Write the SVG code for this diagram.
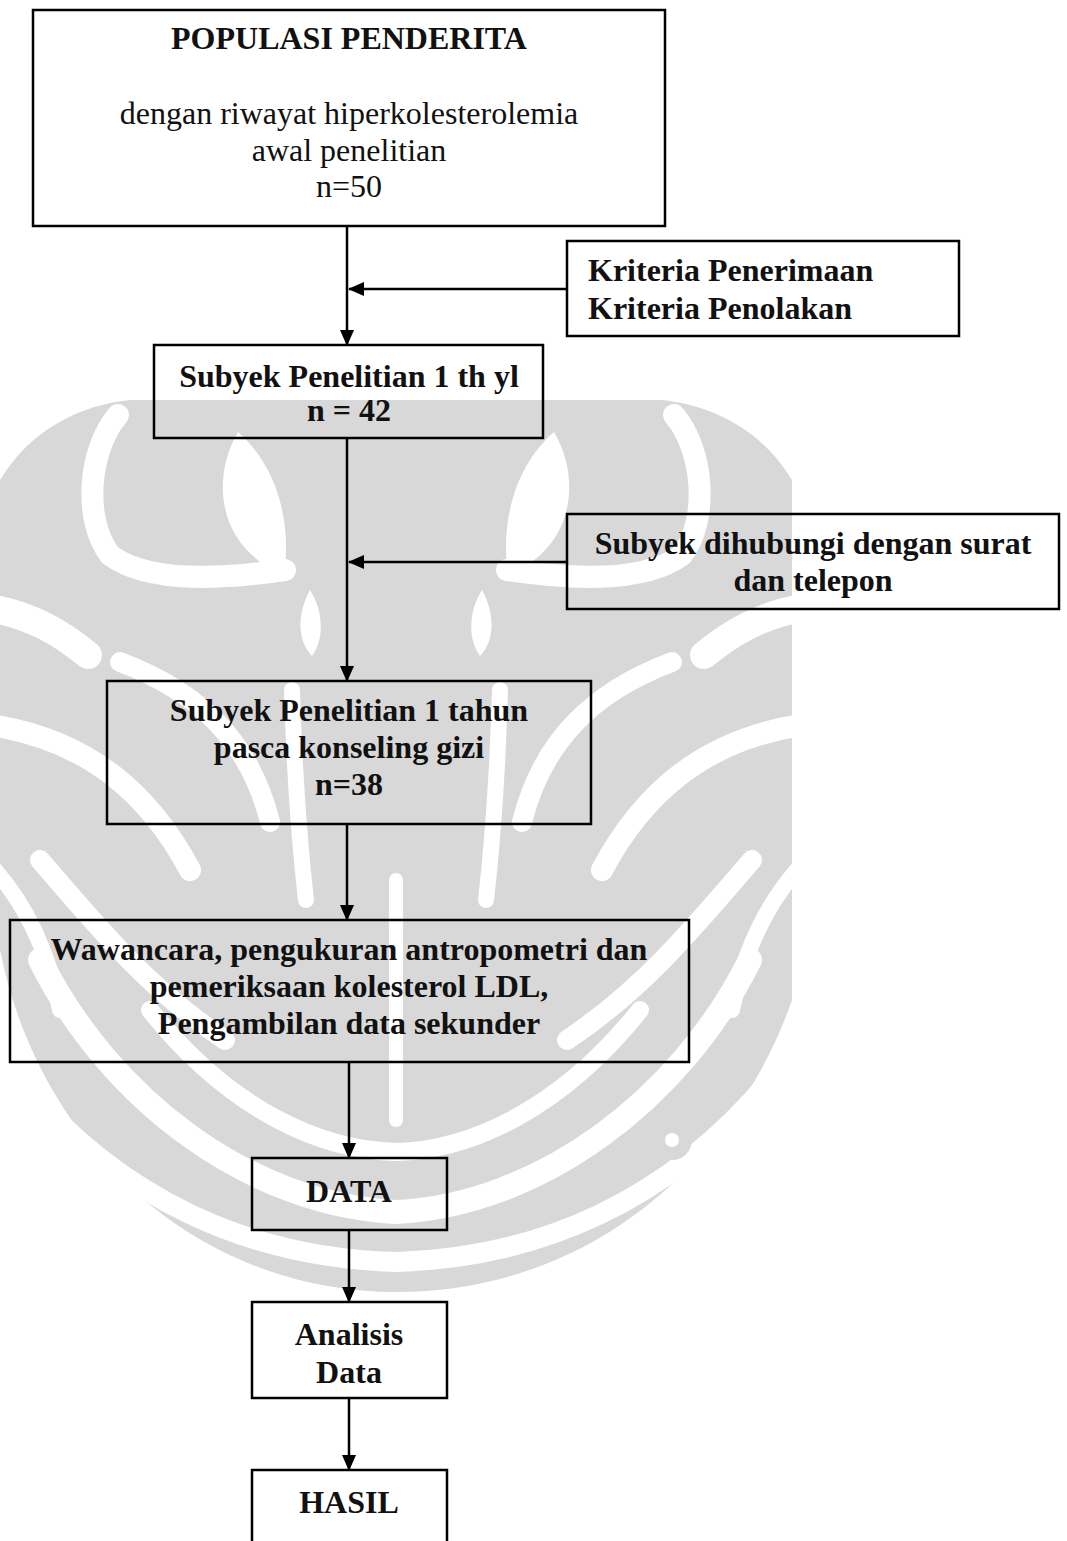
<svg xmlns="http://www.w3.org/2000/svg" width="1067" height="1541" viewBox="0 0 1067 1541">
<style>
.box{fill:none;stroke:#000;stroke-width:2.5}
.t{font-family:"Liberation Serif","Times New Roman",serif;font-size:32px;fill:#111;text-anchor:middle}
.b{font-weight:bold}
.l{text-anchor:start}
.wg{fill:#d8d8d8}
.ww{fill:none;stroke:#fff;stroke-linecap:round}
.wf{fill:#fff}
.c{fill:none;stroke:#000;stroke-width:2.5}
</style>
<defs>
<marker id="ah" markerUnits="userSpaceOnUse" markerWidth="16" markerHeight="14" refX="15" refY="7" orient="auto">
<path d="M0,0 L16,7 L0,14 Z" fill="#000"/>
</marker>
<g id="half">
<path class="ww" stroke-width="22" d="M118 415 C88 450 83 520 110 555 C150 585 230 578 285 570"/>
<path class="wf" d="M238 432 C210 480 218 548 284 575 C292 520 276 465 238 432 Z"/>
<path class="ww" stroke-width="28" d="M-10 608 C30 615 60 632 88 655"/>
<path class="wf" d="M310 590 C296 615 298 642 312 656 C324 640 324 612 310 590 Z"/>
<path class="ww" stroke-width="22" d="M-10 725 C90 740 150 795 190 870"/>
<path class="ww" stroke-width="20" d="M120 662 C200 692 250 742 270 822"/>
<path class="ww" stroke-width="16" d="M292 690 C294 760 298 830 306 900"/>
<path class="ww" stroke-width="20" d="M40 860 C100 930 150 990 225 1040"/>
<path class="ww" stroke-width="16" d="M-5 870 C30 910 50 960 60 1010"/>
</g>
</defs>
<rect width="1067" height="1541" fill="#fff"/>
<g id="watermark">
<path class="wg" d="M0 480 C30 430 80 405 130 400 L662 400 C712 405 762 430 792 480 L792 1000 C740 1150 600 1292 396 1292 C200 1292 40 1150 0 950 Z"/>
<use href="#half"/>
<use href="#half" transform="translate(792,0) scale(-1,1)"/>
<path class="ww" stroke-width="18" d="M150 1010 C230 1110 320 1150 396 1152 C470 1150 560 1110 640 1010"/>
<path class="ww" stroke-width="24" d="M40 960 C110 1100 250 1205 396 1212 C540 1205 680 1100 750 960"/>
<path class="ww" stroke-width="20" d="M20 1080 C120 1200 250 1258 396 1262 C540 1258 670 1200 770 1080"/>
<path class="ww" stroke-width="14" d="M396 880 L396 1120"/>
<circle cx="672" cy="1140" r="20" fill="#d8d8d8"/>
<circle cx="672" cy="1140" r="7" fill="#fff"/>
</g>
<g id="connectors">
<path class="c" d="M347 226 V345" marker-end="url(#ah)"/>
<path class="c" d="M567 289 H349" marker-end="url(#ah)"/>
<path class="c" d="M347 438 V681" marker-end="url(#ah)"/>
<path class="c" d="M567 562 H349" marker-end="url(#ah)"/>
<path class="c" d="M347 824 V920" marker-end="url(#ah)"/>
<path class="c" d="M349 1062 V1158" marker-end="url(#ah)"/>
<path class="c" d="M349 1230 V1302" marker-end="url(#ah)"/>
<path class="c" d="M349 1398 V1470" marker-end="url(#ah)"/>
</g>
<g id="populasi">
<rect class="box" x="33" y="10" width="632" height="216"/>
<text class="t b" x="349" y="49">POPULASI PENDERITA</text>
<text class="t" x="349" y="124">dengan riwayat hiperkolesterolemia</text>
<text class="t" x="349" y="161">awal penelitian</text>
<text class="t" x="349" y="197">n=50</text>
</g>
<g id="kriteria">
<rect class="box" x="567" y="241" width="392" height="95"/>
<text class="t b l" x="588" y="281">Kriteria Penerimaan</text>
<text class="t b l" x="588" y="319">Kriteria Penolakan</text>
</g>
<g id="subyek1">
<rect class="box" x="154" y="345" width="389" height="93"/>
<text class="t b" x="349" y="387">Subyek Penelitian 1 th yl</text>
<text class="t b" x="349" y="421">n = 42</text>
</g>
<g id="dihubungi">
<rect class="box" x="567" y="514" width="492" height="95"/>
<text class="t b" x="813" y="554">Subyek dihubungi dengan surat</text>
<text class="t b" x="813" y="591">dan telepon</text>
</g>
<g id="subyek2">
<rect class="box" x="107" y="681" width="484" height="143"/>
<text class="t b" x="349" y="721">Subyek Penelitian 1 tahun</text>
<text class="t b" x="349" y="758">pasca konseling gizi</text>
<text class="t b" x="349" y="795">n=38</text>
</g>
<g id="wawancara">
<rect class="box" x="10" y="920" width="679" height="142"/>
<text class="t b" x="349" y="960">Wawancara, pengukuran antropometri dan</text>
<text class="t b" x="349" y="997">pemeriksaan kolesterol LDL,</text>
<text class="t b" x="349" y="1034">Pengambilan data sekunder</text>
</g>
<g id="data">
<rect class="box" x="252" y="1158" width="195" height="72"/>
<text class="t b" x="349" y="1202">DATA</text>
</g>
<g id="analisis">
<rect class="box" x="252" y="1302" width="195" height="96"/>
<text class="t b" x="349" y="1345">Analisis</text>
<text class="t b" x="349" y="1383">Data</text>
</g>
<g id="hasil">
<rect class="box" x="252" y="1470" width="195" height="100"/>
<text class="t b" x="349" y="1513">HASIL</text>
</g>
</svg>
